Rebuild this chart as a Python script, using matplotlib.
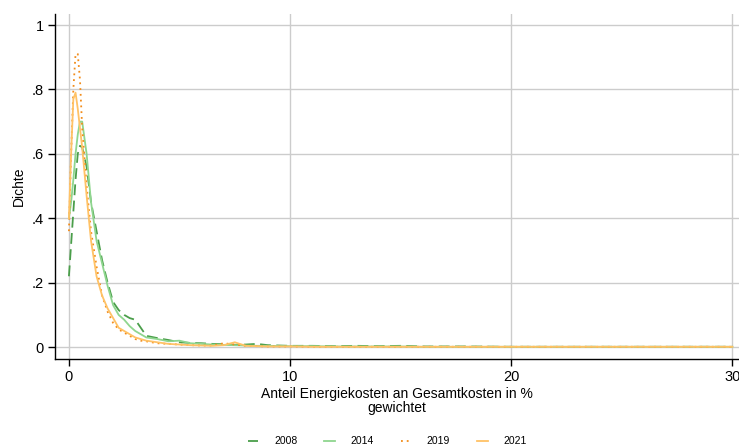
import matplotlib
matplotlib.use("Agg")
import matplotlib.pyplot as plt

plt.rcParams['font.family'] = ['Liberation Sans Narrow', 'Liberation Sans', 'DejaVu Sans']

# Kernel density estimates of the weighted energy-cost share, per year
x_grid = [0, 0.1, 0.2, 0.3, 0.4, 0.5, 0.6, 0.8, 1.0, 1.25, 1.5, 1.75, 2.0, 2.25,
          2.5, 2.75, 3.0, 3.25, 3.5, 4.0, 4.5, 5.0, 5.5, 6.0, 6.5, 7.0, 7.5,
          8.0, 8.5, 9.0, 10, 11, 12, 13, 14, 15, 16, 18, 20, 22, 24, 26, 28, 30]

dens_2008 = [0.22, 0.32, 0.42, 0.52, 0.60, 0.625, 0.62, 0.56, 0.45, 0.36, 0.27,
             0.20, 0.14, 0.115, 0.10, 0.09, 0.085, 0.06, 0.035, 0.028, 0.022,
             0.015, 0.013, 0.012, 0.010, 0.009, 0.007, 0.008, 0.010, 0.006,
             0.004, 0.004, 0.003, 0.004, 0.003, 0.004, 0.002, 0.002, 0.001,
             0.001, 0.001, 0.001, 0.001, 0.001]
dens_2014 = [0.40, 0.45, 0.52, 0.60, 0.66, 0.70, 0.70, 0.60, 0.45, 0.33, 0.26,
             0.19, 0.13, 0.10, 0.085, 0.065, 0.05, 0.04, 0.03, 0.025, 0.018,
             0.020, 0.012, 0.010, 0.008, 0.007, 0.006, 0.005, 0.004, 0.004,
             0.003, 0.003, 0.002, 0.002, 0.002, 0.002, 0.001, 0.001, 0.001,
             0.001, 0.001, 0.001, 0.001, 0.001]
dens_2019 = [0.36, 0.60, 0.80, 0.91, 0.91, 0.83, 0.68, 0.50, 0.36, 0.25, 0.16,
             0.11, 0.075, 0.055, 0.045, 0.035, 0.025, 0.02, 0.018, 0.012, 0.010,
             0.008, 0.006, 0.005, 0.005, 0.012, 0.008, 0.004, 0.003, 0.002,
             0.002, 0.001, 0.001, 0.001, 0.001, 0.001, 0.001, 0.001, 0.001,
             0.001, 0.001, 0.001, 0.001, 0.001]
dens_2021 = [0.40, 0.60, 0.77, 0.79, 0.74, 0.68, 0.62, 0.47, 0.33, 0.22, 0.16,
             0.12, 0.09, 0.06, 0.05, 0.04, 0.03, 0.025, 0.02, 0.015, 0.010,
             0.008, 0.006, 0.005, 0.004, 0.006, 0.015, 0.004, 0.003, 0.002,
             0.002, 0.001, 0.001, 0.001, 0.001, 0.001, 0.001, 0.001, 0.001,
             0.001, 0.001, 0.001, 0.001, 0.001]

years = ['2008', '2014', '2019', '2021']
x_ticks = [0, 10, 20, 30]
y_ticks = [0, 0.2, 0.4, 0.6, 0.8, 1.0]
y_tick_labels = ['0', '.2', '.4', '.6', '.8', '1']

fig = plt.figure(figsize=(7.39, 4.46), dpi=100)
ax = fig.add_axes([0.0744, 0.195, 0.9256, 0.7735])

styles = [
    dict(color='#4a9e4a', linestyle=(0, (6, 3))),
    dict(color='#8fd68f', linestyle='-'),
    dict(color='#f28c1a', linestyle=(0, (1, 2.2))),
    dict(color='#ffc266', linestyle='-'),
]
for year, dens, st in zip(years, [dens_2008, dens_2014, dens_2019, dens_2021], styles):
    ax.plot(x_grid, dens, lw=1.3, label=year, **st)

ax.set_xlim(-0.63, 30.3)
ax.set_ylim(-0.037, 1.034)
ax.set_xticks(x_ticks)
ax.set_yticks(y_ticks)
ax.set_yticklabels(y_tick_labels)
ax.grid(True, color='#cccccc', lw=1.0)
ax.set_axisbelow(True)
for s in ['top', 'right']:
    ax.spines[s].set_visible(False)
for s in ['left', 'bottom']:
    ax.spines[s].set_linewidth(1.0)
ax.tick_params(axis='both', direction='out', length=5, width=1, labelsize=10.5, pad=3)

ax.set_xlabel('Anteil Energiekosten an Gesamtkosten in %\ngewichtet', fontsize=10, labelpad=2,
              linespacing=1.0)
ax.set_ylabel('Dichte', fontsize=10, labelpad=4)

fig.legend(loc='lower center', bbox_to_anchor=(0.524, -0.022), ncol=4, frameon=False,
           fontsize=7.5, handlelength=1.0, columnspacing=2.6, handletextpad=1.5)

fig.savefig('out.png', dpi=100)
